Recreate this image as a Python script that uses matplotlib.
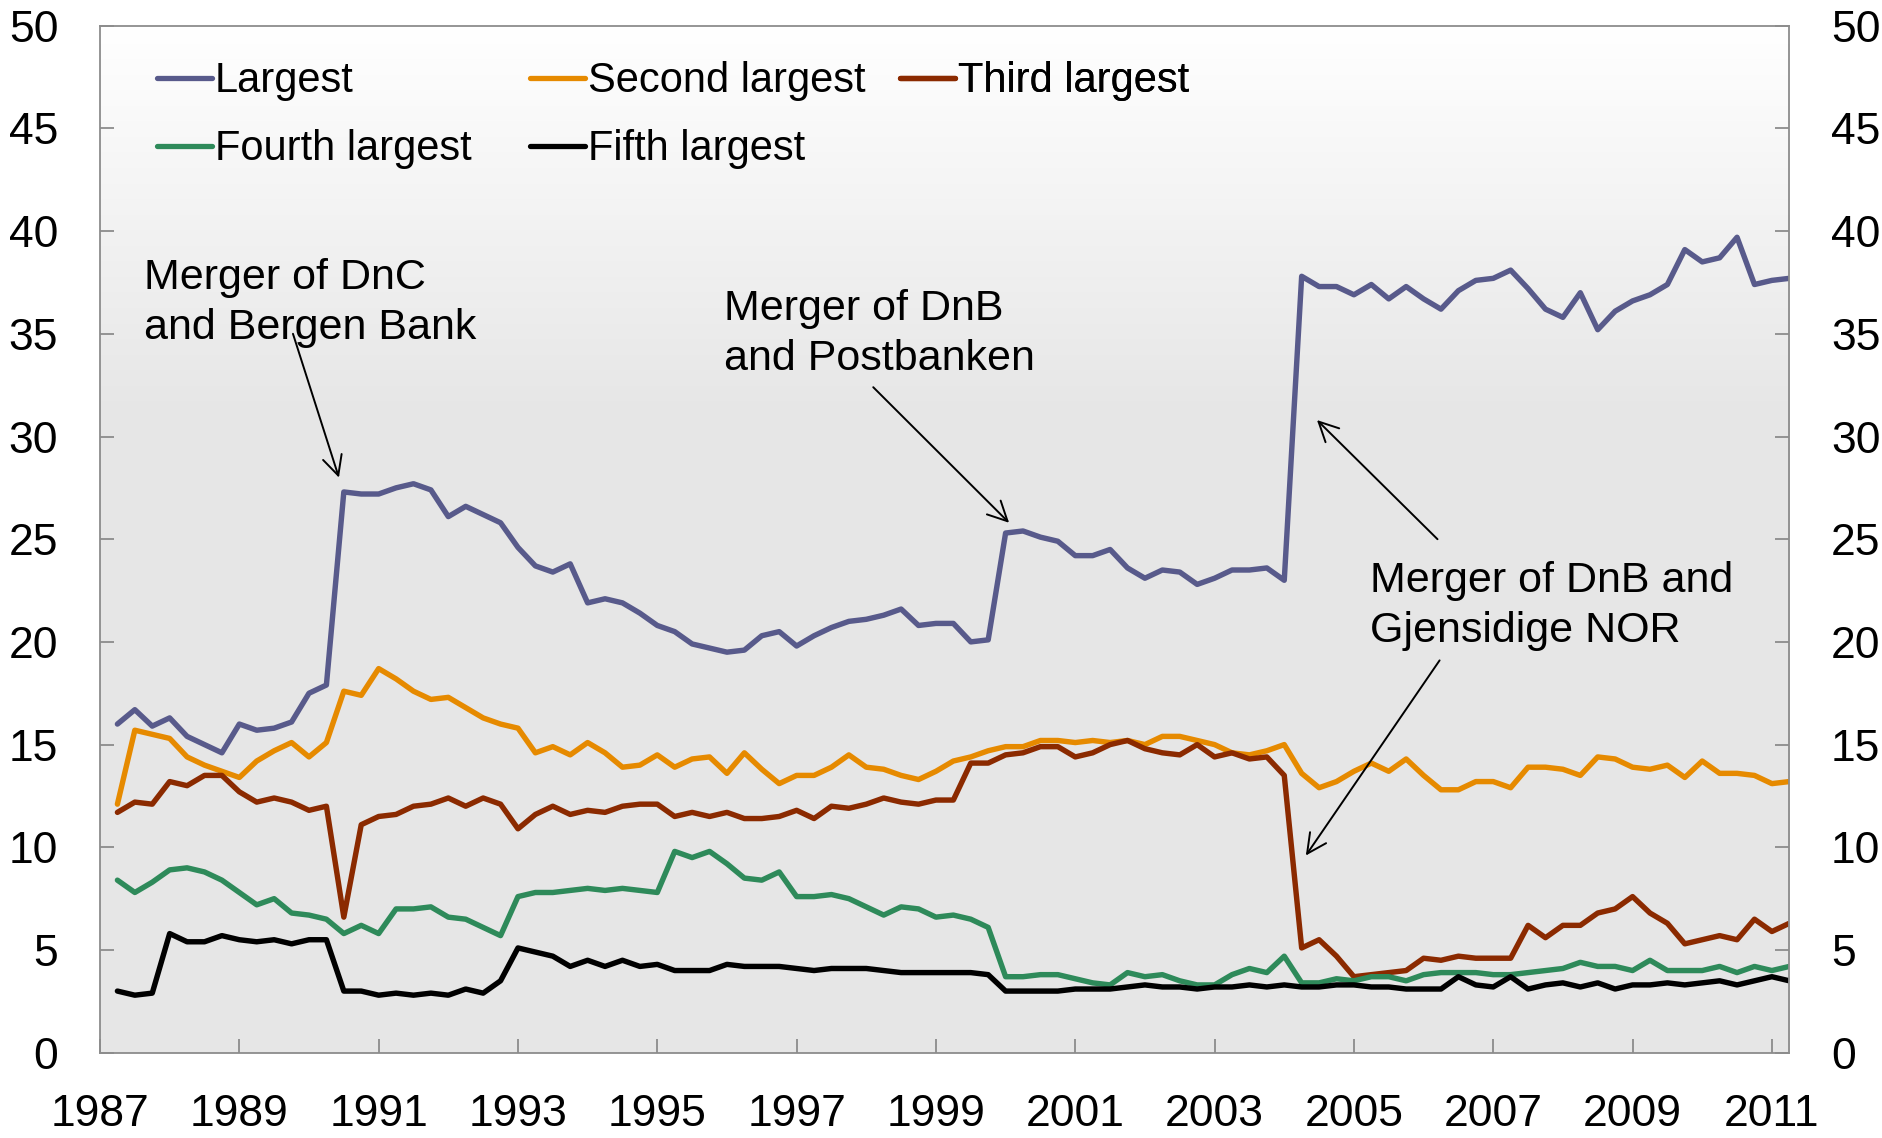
import numpy as np
import matplotlib
matplotlib.use("Agg")
import matplotlib.pyplot as plt

plt.rcParams['font.family'] = ['Liberation Sans', 'DejaVu Sans']

# ---------------- data (quarterly, 1987Q1 - 2011Q1), per cent ----------------
start_year = 1987
n_quarters = 97

largest = [16.0, 16.7, 15.9, 16.3, 15.4, 15.0, 14.6, 16.0, 15.7, 15.8,
           16.1, 17.5, 17.9, 27.3, 27.2, 27.2, 27.5, 27.7, 27.4, 26.1,
           26.6, 26.2, 25.8, 24.6, 23.7, 23.4, 23.8, 21.9, 22.1, 21.9,
           21.4, 20.8, 20.5, 19.9, 19.7, 19.5, 19.6, 20.3, 20.5, 19.8,
           20.3, 20.7, 21.0, 21.1, 21.3, 21.6, 20.8, 20.9, 20.9, 20.0,
           20.1, 25.3, 25.4, 25.1, 24.9, 24.2, 24.2, 24.5, 23.6, 23.1,
           23.5, 23.4, 22.8, 23.1, 23.5, 23.5, 23.6, 23.0, 37.8, 37.3,
           37.3, 36.9, 37.4, 36.7, 37.3, 36.7, 36.2, 37.1, 37.6, 37.7,
           38.1, 37.2, 36.2, 35.8, 37.0, 35.2, 36.1, 36.6, 36.9, 37.4,
           39.1, 38.5, 38.7, 39.7, 37.4, 37.6, 37.7]

second = [12.1, 15.7, 15.5, 15.3, 14.4, 14.0, 13.7, 13.4, 14.2, 14.7,
          15.1, 14.4, 15.1, 17.6, 17.4, 18.7, 18.2, 17.6, 17.2, 17.3,
          16.8, 16.3, 16.0, 15.8, 14.6, 14.9, 14.5, 15.1, 14.6, 13.9,
          14.0, 14.5, 13.9, 14.3, 14.4, 13.6, 14.6, 13.8, 13.1, 13.5,
          13.5, 13.9, 14.5, 13.9, 13.8, 13.5, 13.3, 13.7, 14.2, 14.4,
          14.7, 14.9, 14.9, 15.2, 15.2, 15.1, 15.2, 15.1, 15.2, 15.0,
          15.4, 15.4, 15.2, 15.0, 14.6, 14.5, 14.7, 15.0, 13.6, 12.9,
          13.2, 13.7, 14.1, 13.7, 14.3, 13.5, 12.8, 12.8, 13.2, 13.2,
          12.9, 13.9, 13.9, 13.8, 13.5, 14.4, 14.3, 13.9, 13.8, 14.0,
          13.4, 14.2, 13.6, 13.6, 13.5, 13.1, 13.2]

third = [11.7, 12.2, 12.1, 13.2, 13.0, 13.5, 13.5, 12.7, 12.2, 12.4,
         12.2, 11.8, 12.0, 6.6, 11.1, 11.5, 11.6, 12.0, 12.1, 12.4,
         12.0, 12.4, 12.1, 10.9, 11.6, 12.0, 11.6, 11.8, 11.7, 12.0,
         12.1, 12.1, 11.5, 11.7, 11.5, 11.7, 11.4, 11.4, 11.5, 11.8,
         11.4, 12.0, 11.9, 12.1, 12.4, 12.2, 12.1, 12.3, 12.3, 14.1,
         14.1, 14.5, 14.6, 14.9, 14.9, 14.4, 14.6, 15.0, 15.2, 14.8,
         14.6, 14.5, 15.0, 14.4, 14.6, 14.3, 14.4, 13.5, 5.1, 5.5,
         4.7, 3.7, 3.8, 3.9, 4.0, 4.6, 4.5, 4.7, 4.6, 4.6,
         4.6, 6.2, 5.6, 6.2, 6.2, 6.8, 7.0, 7.6, 6.8, 6.3,
         5.3, 5.5, 5.7, 5.5, 6.5, 5.9, 6.3]

fourth = [8.4, 7.8, 8.3, 8.9, 9.0, 8.8, 8.4, 7.8, 7.2, 7.5,
          6.8, 6.7, 6.5, 5.8, 6.2, 5.8, 7.0, 7.0, 7.1, 6.6,
          6.5, 6.1, 5.7, 7.6, 7.8, 7.8, 7.9, 8.0, 7.9, 8.0,
          7.9, 7.8, 9.8, 9.5, 9.8, 9.2, 8.5, 8.4, 8.8, 7.6,
          7.6, 7.7, 7.5, 7.1, 6.7, 7.1, 7.0, 6.6, 6.7, 6.5,
          6.1, 3.7, 3.7, 3.8, 3.8, 3.6, 3.4, 3.3, 3.9, 3.7,
          3.8, 3.5, 3.3, 3.3, 3.8, 4.1, 3.9, 4.7, 3.4, 3.4,
          3.6, 3.5, 3.7, 3.7, 3.5, 3.8, 3.9, 3.9, 3.9, 3.8,
          3.8, 3.9, 4.0, 4.1, 4.4, 4.2, 4.2, 4.0, 4.5, 4.0,
          4.0, 4.0, 4.2, 3.9, 4.2, 4.0, 4.2]

fifth = [3.0, 2.8, 2.9, 5.8, 5.4, 5.4, 5.7, 5.5, 5.4, 5.5,
         5.3, 5.5, 5.5, 3.0, 3.0, 2.8, 2.9, 2.8, 2.9, 2.8,
         3.1, 2.9, 3.5, 5.1, 4.9, 4.7, 4.2, 4.5, 4.2, 4.5,
         4.2, 4.3, 4.0, 4.0, 4.0, 4.3, 4.2, 4.2, 4.2, 4.1,
         4.0, 4.1, 4.1, 4.1, 4.0, 3.9, 3.9, 3.9, 3.9, 3.9,
         3.8, 3.0, 3.0, 3.0, 3.0, 3.1, 3.1, 3.1, 3.2, 3.3,
         3.2, 3.2, 3.1, 3.2, 3.2, 3.3, 3.2, 3.3, 3.2, 3.2,
         3.3, 3.3, 3.2, 3.2, 3.1, 3.1, 3.1, 3.7, 3.3, 3.2,
         3.7, 3.1, 3.3, 3.4, 3.2, 3.4, 3.1, 3.3, 3.3, 3.4,
         3.3, 3.4, 3.5, 3.3, 3.5, 3.7, 3.5]

series_names = ["Largest", "Second largest", "Third largest",
                "Fourth largest", "Fifth largest"]
series_values = [largest, second, third, fourth, fifth]
series_colors = ["#585a8b", "#e68a00", "#8b2a00", "#2e8a5a", "#000000"]

x_tick_years = list(range(1987, 2012, 2))
y_ticks = [0, 5, 10, 15, 20, 25, 30, 35, 40, 45, 50]

annotations = [
    ("Merger of DnC\nand Bergen Bank", (1987.63, 36.48), (1989.77, 35.0), (1990.43, 28.0)),
    ("Merger of DnB\nand Postbanken", (1995.96, 35.0), (1998.10, 32.4), (2000.05, 25.8)),
]
annot3_text = "Merger of DnB and\nGjensidige NOR"
annot3_pos = (2005.23, 21.77)
annot3_arrows = [((2006.20, 25.0), (2004.47, 30.8)),
                 ((2006.23, 19.1), (2004.31, 9.6))]

# quarter-end positions in decimal years
x = start_year + 0.25 + 0.25 * np.arange(n_quarters)

# ---------------- figure ----------------
W, H = 1883, 1138
fig = plt.figure(figsize=(W / 100, H / 100), dpi=100)
ax = fig.add_axes([100 / W, 1 - 1052.7 / H, (1789.3 - 100) / W, (1052.7 - 25.7) / H])

# gradient background (white at top fading to light grey)
t = np.linspace(0, 1, 256)  # 0 top .. 1 bottom
val = np.where(t < 0.38, 1.0 - (1.0 - 0.902) * (t / 0.38), 0.902)
grad = np.repeat(val[:, None], 3, axis=1)[:, None, :]
ax.imshow(grad, extent=[0, 1, 0, 1], transform=ax.transAxes, aspect='auto',
          zorder=0, interpolation='bilinear')

tick_font = 32
legend_font = 30
annot_font = 31

handles = []
for name, vals, col in zip(series_names, series_values, series_colors):
    ln, = ax.plot(x, vals, color=col, lw=3.9, solid_joinstyle='round',
                  solid_capstyle='round', zorder=3, label=name)
    handles.append(ln)

ax.set_xlim(1987, 2011.25)
ax.set_ylim(0, 50)
ax.set_xticks(x_tick_years)
ax.set_xticklabels([str(y) for y in x_tick_years])
ax.set_yticks(y_ticks)

spine_col = '#8c8c8c'
for s in ax.spines.values():
    s.set_color(spine_col)
    s.set_linewidth(1.3)
    s.set_zorder(4)

ax.tick_params(axis='y', which='both', direction='in', length=10, width=1.3,
               color=spine_col, left=True, right=True, labelleft=True,
               labelright=True, labelsize=tick_font, pad=30)
ax.tick_params(axis='x', direction='in', length=10, width=1.3, color=spine_col,
               labelsize=tick_font, pad=30)

# legend, laid out as three columns (row-wise order as in the original)
legend_cols = [[0, 3], [1, 4], [2]]
legend_x = [0.0337, 0.2545, 0.4736]
for cols, lx in zip(legend_cols, legend_x):
    leg = ax.legend([handles[k] for k in cols], [series_names[k] for k in cols],
                    loc='upper left', bbox_to_anchor=(lx, 0.9655), frameon=False,
                    borderpad=0, borderaxespad=0, handlelength=1.32,
                    handletextpad=0.07, labelspacing=0.68, fontsize=legend_font)
    for lh in leg.get_lines():
        lh.set_linewidth(3.8)
        lh.set_solid_capstyle('round')
    ax.add_artist(leg)

arrowprops = dict(arrowstyle='->', color='black', lw=1.4,
                  mutation_scale=35, shrinkA=0, shrinkB=0)
for text, tpos, a_from, a_to in annotations:
    ax.text(tpos[0], tpos[1], text, fontsize=annot_font, ha='left', va='center',
            linespacing=1.32, zorder=5)
    ax.annotate('', xy=a_to, xytext=a_from, arrowprops=arrowprops, zorder=5)

ax.text(annot3_pos[0], annot3_pos[1], annot3_text, fontsize=annot_font, ha='left',
        va='center', linespacing=1.32, zorder=5)
for a_from, a_to in annot3_arrows:
    ax.annotate('', xy=a_to, xytext=a_from, arrowprops=arrowprops, zorder=5)

fig.savefig("out.png", dpi=100)
